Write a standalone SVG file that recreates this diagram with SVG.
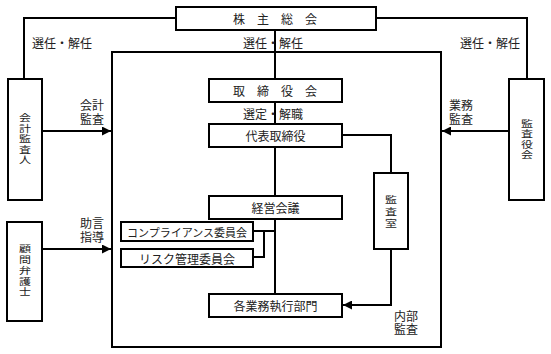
<svg xmlns="http://www.w3.org/2000/svg" width="551" height="354" viewBox="0 0 551 354">
<style>
.box{fill:#fff;stroke:#000;stroke-width:2}
.ln{fill:none;stroke:#000;stroke-width:2}
text{font-family:"Noto Sans CJK JP","Noto Sans",sans-serif;font-size:12px;fill:#222;dominant-baseline:central;text-anchor:middle}
.s{font-size:11px}
</style>
<defs>
<marker id="ah" viewBox="0 0 10 10" refX="10" refY="5" markerWidth="4.5" markerHeight="4.5" orient="auto" markerUnits="strokeWidth">
<path d="M0,0 L10,5 L0,10 Z" fill="#000"/>
</marker>
</defs>
<rect width="551" height="354" fill="#fff"/>
<g id="connectors">
<rect class="ln" x="112" y="52" width="329" height="295"/>
<path class="ln" d="M176,18 H24 V79"/>
<path class="ln" d="M376,18 H527 V79"/>
<path class="ln" d="M275,30 V79 M275,102 V124 M275,147 V196 M275,219 V294"/>
<path class="ln" d="M342,135 H391 V173"/>
<path class="ln" d="M391,249 V305 H343" marker-end="url(#ah)"/>
<path class="ln" d="M253,231 H275 M264,231 V257 H253"/>
<path class="ln" d="M42,131 H111" marker-end="url(#ah)"/>
<path class="ln" d="M509,131 H442" marker-end="url(#ah)"/>
<path class="ln" d="M42,249 H111" marker-end="url(#ah)"/>
</g>
<g id="labels">
<text x="62" y="42">選任・解任</text>
<text x="273" y="42">選任・解任</text>
<text x="490" y="42">選任・解任</text>
<text x="273" y="113">選定・解職</text>
<text><tspan x="92" y="104">会計</tspan><tspan x="92" y="118">監査</tspan></text>
<text><tspan x="461" y="104">業務</tspan><tspan x="461" y="118">監査</tspan></text>
<text><tspan x="92" y="222">助言</tspan><tspan x="92" y="236">指導</tspan></text>
<text><tspan x="406" y="315">内部</tspan><tspan x="406" y="328">監査</tspan></text>
</g>
<g id="n-shareholders">
<rect class="box" x="176" y="7" width="200" height="23"/>
<text x="239 263 287 311" y="18.5">株主総会</text>
</g>
<g id="n-auditor">
<rect class="box" x="8" y="79" width="34" height="121"/>
<text transform="translate(25,138) scale(1,0.8)" x="0 0 0 0 0" y="-26.25 -13.125 0 13.125 26.25">会計監査人</text>
</g>
<g id="n-kansayakukai">
<rect class="box" x="509" y="79" width="35" height="121"/>
<text transform="translate(527,138) scale(1,0.8)" x="0 0 0 0" y="-19.69 -6.56 6.56 19.69">監査役会</text>
</g>
<g id="n-board">
<rect class="box" x="209" y="79" width="133" height="23"/>
<text x="239 263 287 311" y="90.5">取締役会</text>
</g>
<g id="n-ceo">
<rect class="box" x="209" y="124" width="133" height="23"/>
<text x="275.5" y="135.5">代表取締役</text>
</g>
<g id="n-mgmt">
<rect class="box" x="209" y="196" width="133" height="23"/>
<text x="275.5" y="207.5">経営会議</text>
</g>
<g id="n-compliance">
<rect class="box" x="121" y="222" width="132" height="19"/>
<text class="s" x="187" y="231.5">コンプライアンス委員会</text>
</g>
<g id="n-risk">
<rect class="box" x="121" y="249" width="132" height="18"/>
<text x="187" y="258">リスク管理委員会</text>
</g>
<g id="n-audit-office">
<rect class="box" x="374" y="173" width="34" height="76"/>
<text transform="translate(391,211) scale(1,0.8)" x="0 0 0" y="-15 0 15">監査室</text>
</g>
<g id="n-divisions">
<rect class="box" x="209" y="294" width="133" height="23"/>
<text x="275.5" y="305.5">各業務執行部門</text>
</g>
<g id="n-lawyer">
<rect class="box" x="7" y="222" width="35" height="99"/>
<text transform="translate(25,269.5) scale(1,0.8)" x="0 0 0 0 0" y="-26.88 -13.44 0 13.44 26.88">顧問弁護士</text>
</g>
</svg>
